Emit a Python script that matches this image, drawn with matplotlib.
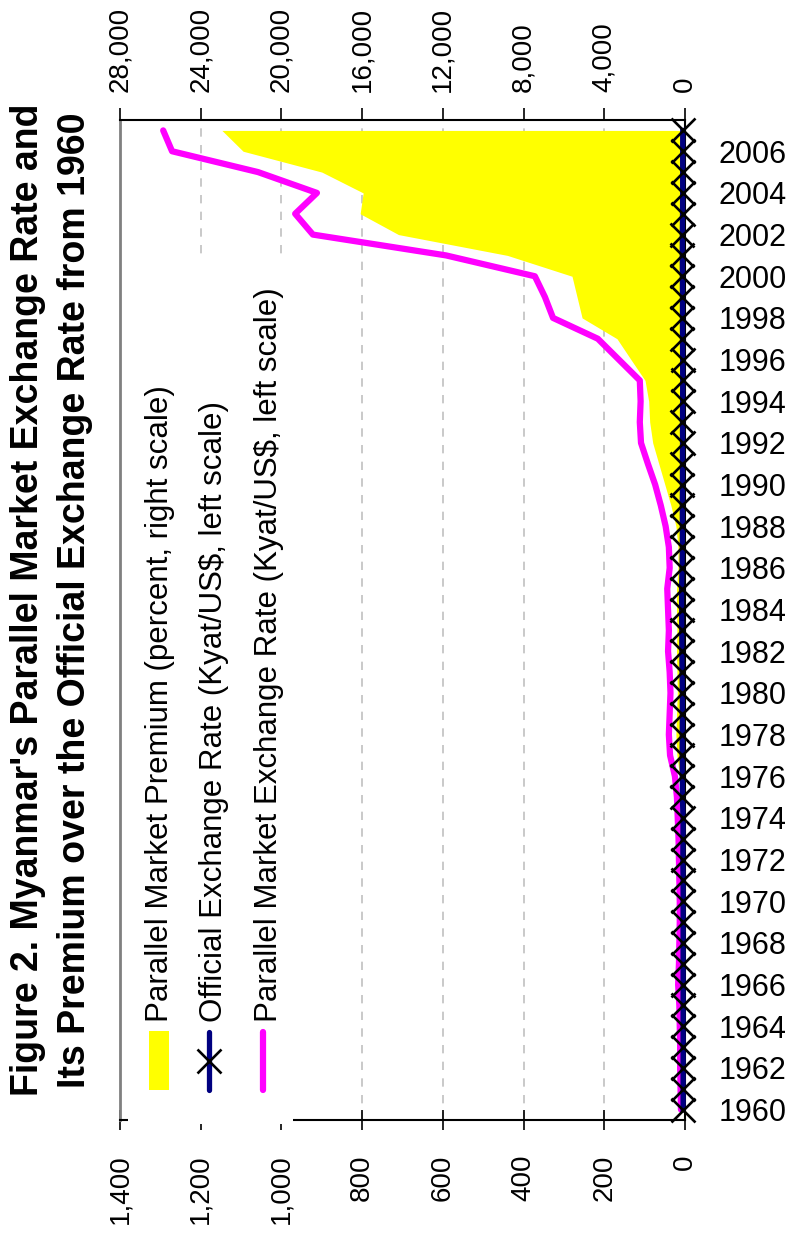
"""Myanmar parallel market exchange rate and premium, 1960-2007 (rotated page layout)."""

import matplotlib
matplotlib.use("Agg")
import matplotlib.pyplot as plt
from matplotlib.patches import Rectangle
from matplotlib.lines import Line2D
from matplotlib.ticker import FuncFormatter, MultipleLocator

plt.rcParams["font.family"] = ["Liberation Sans", "DejaVu Sans"]

years = list(range(1960, 2008))

# Kyat per US$, left scale
parallel_rate = [
    10, 11, 12, 12, 13, 14, 17, 15, 14, 13,
    13, 14, 15, 16, 18, 20, 25, 37, 40, 38,
    36, 38, 42, 40, 42, 44, 38, 40, 48, 60,
    74, 92, 109, 112, 110, 112, 164, 216, 327, 347,
    372, 592, 922, 966, 912, 1058, 1271, 1293,
]
official_rate = [
    4.76, 4.76, 4.76, 4.76, 4.76, 4.76, 4.76, 4.76, 4.76, 4.76,
    4.76, 4.76, 5.4, 5.0, 4.9, 6.5, 6.8, 7.0, 6.8, 6.6,
    6.6, 7.3, 7.8, 8.0, 8.4, 8.5, 7.3, 6.6, 6.5, 6.7,
    6.3, 6.3, 6.1, 6.2, 5.9, 5.7, 5.9, 6.2, 6.3, 6.3,
    6.5, 6.7, 6.6, 6.1, 5.8, 5.8, 5.8, 5.6,
]
# percent, right scale
premium_pct = [
    110, 131, 152, 152, 173, 194, 257, 215, 194, 173,
    173, 194, 180, 220, 260, 200, 270, 400, 450, 420,
    380, 400, 420, 400, 420, 420, 350, 350, 450, 700,
    1000, 1300, 1600, 1750, 1800, 1980, 2680, 3370, 5100, 5350,
    5600, 8800, 14200, 16100, 15950, 18000, 21900, 22950,
]
year_labels = years[::2]

W, H, DPI = 796, 1235, 100
# plot area in image pixels
LEFT, RIGHT, TOP, BOTTOM = 120, 685, 120, 1120


def fx(px):
    return px / W


def fy(py):
    return 1 - py / H


fig = plt.figure(figsize=(W / DPI, H / DPI), dpi=DPI)
ax = fig.add_axes([fx(LEFT), fy(BOTTOM), (RIGHT - LEFT) / W, (BOTTOM - TOP) / H])
ax2 = ax.twiny()
ax.set_zorder(2)
ax2.set_zorder(1)
ax.patch.set_visible(False)

comma = FuncFormatter(lambda v, _: f"{v:,.0f}")

# premium area on the top (right-scale) axis
ax2.fill_betweenx(years, 0, premium_pct, color="#ffff00", lw=0, zorder=2)
ax2.set_xlim(28000, 0)
ax2.xaxis.set_major_locator(MultipleLocator(4000))
ax2.xaxis.set_major_formatter(comma)
ax2.grid(axis="x", color="#c0c0c0", linestyle=(0, (5, 5)), lw=1.2)
ax2.set_axisbelow(True)
ax2.tick_params(axis="x", direction="out", length=9, width=1.2,
                labelsize=20, labelrotation=90, pad=11)
for s in ax2.spines.values():
    s.set_visible(False)

# exchange rate lines on the bottom (left-scale) axis
ax.plot(parallel_rate, years, color="#ff00ff", lw=4.5,
        solid_capstyle="round", zorder=2)
ax.plot(official_rate, years, color="#000080", lw=3.8, marker="x", ms=17,
        mec="black", mew=1.9, zorder=3, clip_on=False)
ax.set_xlim(1400, 0)
ax.set_ylim(1959.5, 2007.5)
ax.xaxis.set_major_locator(MultipleLocator(200))
ax.xaxis.set_major_formatter(comma)
ax.tick_params(axis="x", direction="inout", length=14, width=1.2,
               labelsize=20, labelrotation=90, pad=18)
ax.set_yticks(year_labels)
ax.yaxis.tick_right()
ax.tick_params(axis="y", length=0, labelsize=22, pad=24)
ax.spines["left"].set_color("#808080")
ax.spines["left"].set_linewidth(2)
for side in ("bottom", "top", "right"):
    ax.spines[side].set_color("black")
    ax.spines[side].set_linewidth(1.5)

# title, rotated with the page
fig.text(fx(38), fy(600), "Figure 2. Myanmar's Parallel Market Exchange Rate and",
         rotation=90, rotation_mode="anchor", ha="center", va="baseline",
         fontsize=27, fontweight="bold")
fig.text(fx(85), fy(600), "Its Premium over the Official Exchange Rate from 1960",
         rotation=90, rotation_mode="anchor", ha="center", va="baseline",
         fontsize=27, fontweight="bold")

# legend box (white, covers the axis line beneath it)
LG_L, LG_R, LG_T, LG_B = 128, 293, 257, 1124
lax = fig.add_axes([fx(LG_L), fy(LG_B), (LG_R - LG_L) / W, (LG_B - LG_T) / H])
lax.set_zorder(3)
lax.set_xlim(LG_L, LG_R)
lax.set_ylim(LG_B, LG_T)
lax.set_xticks([])
lax.set_yticks([])
for s in lax.spines.values():
    s.set_visible(False)
lax.set_facecolor("white")

lax.add_patch(Rectangle((149, 1031), 20, 59, color="#ffff00", lw=0))
lax.add_line(Line2D([209, 209], [1032, 1090], color="#000080", lw=3.8,
                    solid_capstyle="round"))
lax.add_line(Line2D([209], [1061], color="black", marker="x", ms=17, mew=1.9,
                    ls="none"))
lax.add_line(Line2D([263, 263], [1032, 1090], color="#ff00ff", lw=4.5,
                    solid_capstyle="round"))

legend_labels = [
    (168, "Parallel Market Premium (percent, right scale)"),
    (222, "Official Exchange Rate (Kyat/US$, left scale)"),
    (277, "Parallel Market Exchange Rate (Kyat/US$, left scale)"),
]
for x, label in legend_labels:
    lax.text(x, 1022, label, rotation=90, rotation_mode="anchor",
             ha="left", va="baseline", fontsize=22.5)

fig.savefig("out.png", dpi=DPI, facecolor="white")
